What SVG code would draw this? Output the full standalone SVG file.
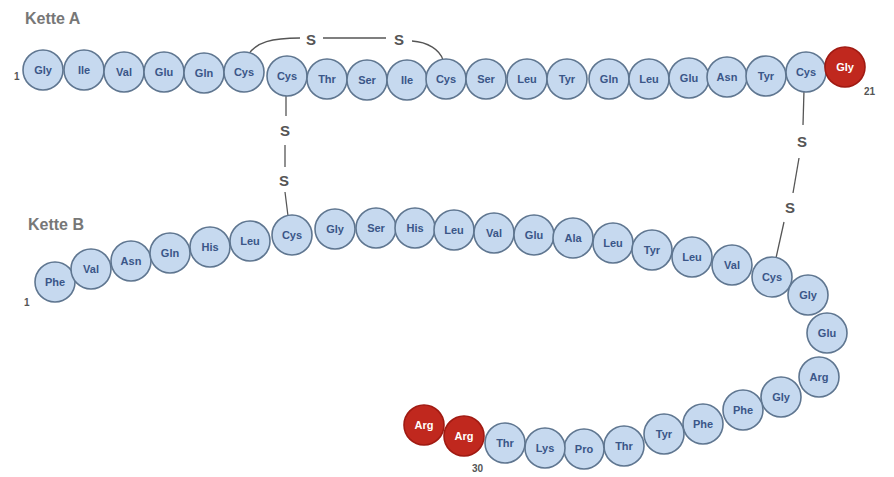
<svg xmlns="http://www.w3.org/2000/svg" width="894" height="477" viewBox="0 0 894 477">
<style>
.aa circle{fill:#c6d9ef;stroke:#5f7690;stroke-width:1.6}
.aa text{font-family:"Liberation Sans",Arial,sans-serif;font-size:11px;font-weight:bold;fill:#3a5688;text-anchor:middle;dominant-baseline:central}
.red circle{fill:#c0281e;stroke:#a01a12}
.red text{fill:#ffffff}
.bond{fill:none;stroke:#555;stroke-width:1.3}
.s{font-family:"Liberation Sans",Arial,sans-serif;font-size:15px;font-weight:bold;fill:#555;text-anchor:middle;dominant-baseline:central}
.lbl{font-family:"Liberation Sans",Arial,sans-serif;font-size:16px;font-weight:bold;fill:#777}
.num{font-family:"Liberation Sans",Arial,sans-serif;font-size:10px;font-weight:bold;fill:#555}
</style>
<rect width="894" height="477" fill="#ffffff"/>
<g id="connectors">
<path class="bond" d="M248,55 C256,42 272,38 300,38"/>
<line class="bond" x1="323" y1="38" x2="386" y2="38"/>
<path class="bond" d="M412,41 C428,42 440,50 443,60"/>
<line class="bond" x1="286" y1="90" x2="286" y2="116"/>
<line class="bond" x1="285" y1="145" x2="285" y2="167"/>
<line class="bond" x1="285" y1="192" x2="288" y2="216"/>
<line class="bond" x1="804" y1="90" x2="803" y2="125"/>
<line class="bond" x1="799" y1="158" x2="793" y2="193"/>
<line class="bond" x1="784" y1="222" x2="776" y2="258"/>
</g>
<g id="sulfur">
<text class="s" x="311" y="39">S</text>
<text class="s" x="399" y="39">S</text>
<text class="s" x="285" y="130">S</text>
<text class="s" x="284" y="180">S</text>
<text class="s" x="802" y="141">S</text>
<text class="s" x="790" y="207">S</text>
</g>
<g id="labels">
<text class="lbl" x="25" y="24">Kette A</text>
<text class="lbl" x="28" y="230">Kette B</text>
<text class="num" x="14" y="80">1</text>
<text class="num" x="864" y="95">21</text>
<text class="num" x="24" y="306">1</text>
<text class="num" x="472" y="472">30</text>
</g>
<g id="chainA">
<g id="A1" class="aa"><circle cx="43" cy="70" r="20"/><text x="43" y="70">Gly</text></g>
<g id="A2" class="aa"><circle cx="84" cy="70" r="20"/><text x="84" y="70">Ile</text></g>
<g id="A3" class="aa"><circle cx="124" cy="72" r="20"/><text x="124" y="72">Val</text></g>
<g id="A4" class="aa"><circle cx="164" cy="72" r="20"/><text x="164" y="72">Glu</text></g>
<g id="A5" class="aa"><circle cx="204" cy="73" r="20"/><text x="204" y="73">Gln</text></g>
<g id="A6" class="aa"><circle cx="244" cy="72" r="20"/><text x="244" y="72">Cys</text></g>
<g id="A7" class="aa"><circle cx="287" cy="76" r="20"/><text x="287" y="76">Cys</text></g>
<g id="A8" class="aa"><circle cx="327" cy="79" r="20"/><text x="327" y="79">Thr</text></g>
<g id="A9" class="aa"><circle cx="367" cy="80" r="20"/><text x="367" y="80">Ser</text></g>
<g id="A10" class="aa"><circle cx="407" cy="80" r="20"/><text x="407" y="80">Ile</text></g>
<g id="A11" class="aa"><circle cx="446" cy="79" r="20"/><text x="446" y="79">Cys</text></g>
<g id="A12" class="aa"><circle cx="486" cy="79" r="20"/><text x="486" y="79">Ser</text></g>
<g id="A13" class="aa"><circle cx="527" cy="79" r="20"/><text x="527" y="79">Leu</text></g>
<g id="A14" class="aa"><circle cx="567" cy="79" r="20"/><text x="567" y="79">Tyr</text></g>
<g id="A15" class="aa"><circle cx="609" cy="79" r="20"/><text x="609" y="79">Gln</text></g>
<g id="A16" class="aa"><circle cx="649" cy="79" r="20"/><text x="649" y="79">Leu</text></g>
<g id="A17" class="aa"><circle cx="689" cy="78" r="20"/><text x="689" y="78">Glu</text></g>
<g id="A18" class="aa"><circle cx="727" cy="77" r="20"/><text x="727" y="77">Asn</text></g>
<g id="A19" class="aa"><circle cx="766" cy="76" r="20"/><text x="766" y="76">Tyr</text></g>
<g id="A20" class="aa"><circle cx="806" cy="72" r="20"/><text x="806" y="72">Cys</text></g>
<g id="A21" class="aa red"><circle cx="845" cy="67" r="20"/><text x="845" y="67">Gly</text></g>
</g>
<g id="chainB">
<g id="B1" class="aa"><circle cx="55" cy="282" r="20"/><text x="55" y="282">Phe</text></g>
<g id="B2" class="aa"><circle cx="91" cy="269" r="20"/><text x="91" y="269">Val</text></g>
<g id="B3" class="aa"><circle cx="131" cy="261" r="20"/><text x="131" y="261">Asn</text></g>
<g id="B4" class="aa"><circle cx="170" cy="253" r="20"/><text x="170" y="253">Gln</text></g>
<g id="B5" class="aa"><circle cx="210" cy="247" r="20"/><text x="210" y="247">His</text></g>
<g id="B6" class="aa"><circle cx="250" cy="241" r="20"/><text x="250" y="241">Leu</text></g>
<g id="B7" class="aa"><circle cx="292" cy="235" r="20"/><text x="292" y="235">Cys</text></g>
<g id="B8" class="aa"><circle cx="335" cy="229" r="20"/><text x="335" y="229">Gly</text></g>
<g id="B9" class="aa"><circle cx="376" cy="228" r="20"/><text x="376" y="228">Ser</text></g>
<g id="B10" class="aa"><circle cx="415" cy="228" r="20"/><text x="415" y="228">His</text></g>
<g id="B11" class="aa"><circle cx="454" cy="230" r="20"/><text x="454" y="230">Leu</text></g>
<g id="B12" class="aa"><circle cx="494" cy="233" r="20"/><text x="494" y="233">Val</text></g>
<g id="B13" class="aa"><circle cx="534" cy="235" r="20"/><text x="534" y="235">Glu</text></g>
<g id="B14" class="aa"><circle cx="573" cy="238" r="20"/><text x="573" y="238">Ala</text></g>
<g id="B15" class="aa"><circle cx="613" cy="243" r="20"/><text x="613" y="243">Leu</text></g>
<g id="B16" class="aa"><circle cx="652" cy="250" r="20"/><text x="652" y="250">Tyr</text></g>
<g id="B17" class="aa"><circle cx="692" cy="257" r="20"/><text x="692" y="257">Leu</text></g>
<g id="B18" class="aa"><circle cx="732" cy="265" r="20"/><text x="732" y="265">Val</text></g>
<g id="B19" class="aa"><circle cx="772" cy="277" r="20"/><text x="772" y="277">Cys</text></g>
<g id="B20" class="aa"><circle cx="808" cy="295" r="20"/><text x="808" y="295">Gly</text></g>
<g id="B21" class="aa"><circle cx="827" cy="333" r="20"/><text x="827" y="333">Glu</text></g>
<g id="B22" class="aa"><circle cx="819" cy="377" r="20"/><text x="819" y="377">Arg</text></g>
<g id="B23" class="aa"><circle cx="781" cy="397" r="20"/><text x="781" y="397">Gly</text></g>
<g id="B24" class="aa"><circle cx="743" cy="410" r="20"/><text x="743" y="410">Phe</text></g>
<g id="B25" class="aa"><circle cx="703" cy="424" r="20"/><text x="703" y="424">Phe</text></g>
<g id="B26" class="aa"><circle cx="664" cy="434" r="20"/><text x="664" y="434">Tyr</text></g>
<g id="B27" class="aa"><circle cx="624" cy="446" r="20"/><text x="624" y="446">Thr</text></g>
<g id="B28" class="aa"><circle cx="584" cy="449" r="20"/><text x="584" y="449">Pro</text></g>
<g id="B29" class="aa"><circle cx="545" cy="448" r="20"/><text x="545" y="448">Lys</text></g>
<g id="B30" class="aa"><circle cx="505" cy="443" r="20"/><text x="505" y="443">Thr</text></g>
<g id="B31" class="aa red"><circle cx="464" cy="436" r="20"/><text x="464" y="436">Arg</text></g>
<g id="B32" class="aa red"><circle cx="424" cy="425" r="20"/><text x="424" y="425">Arg</text></g>
</g>
</svg>
